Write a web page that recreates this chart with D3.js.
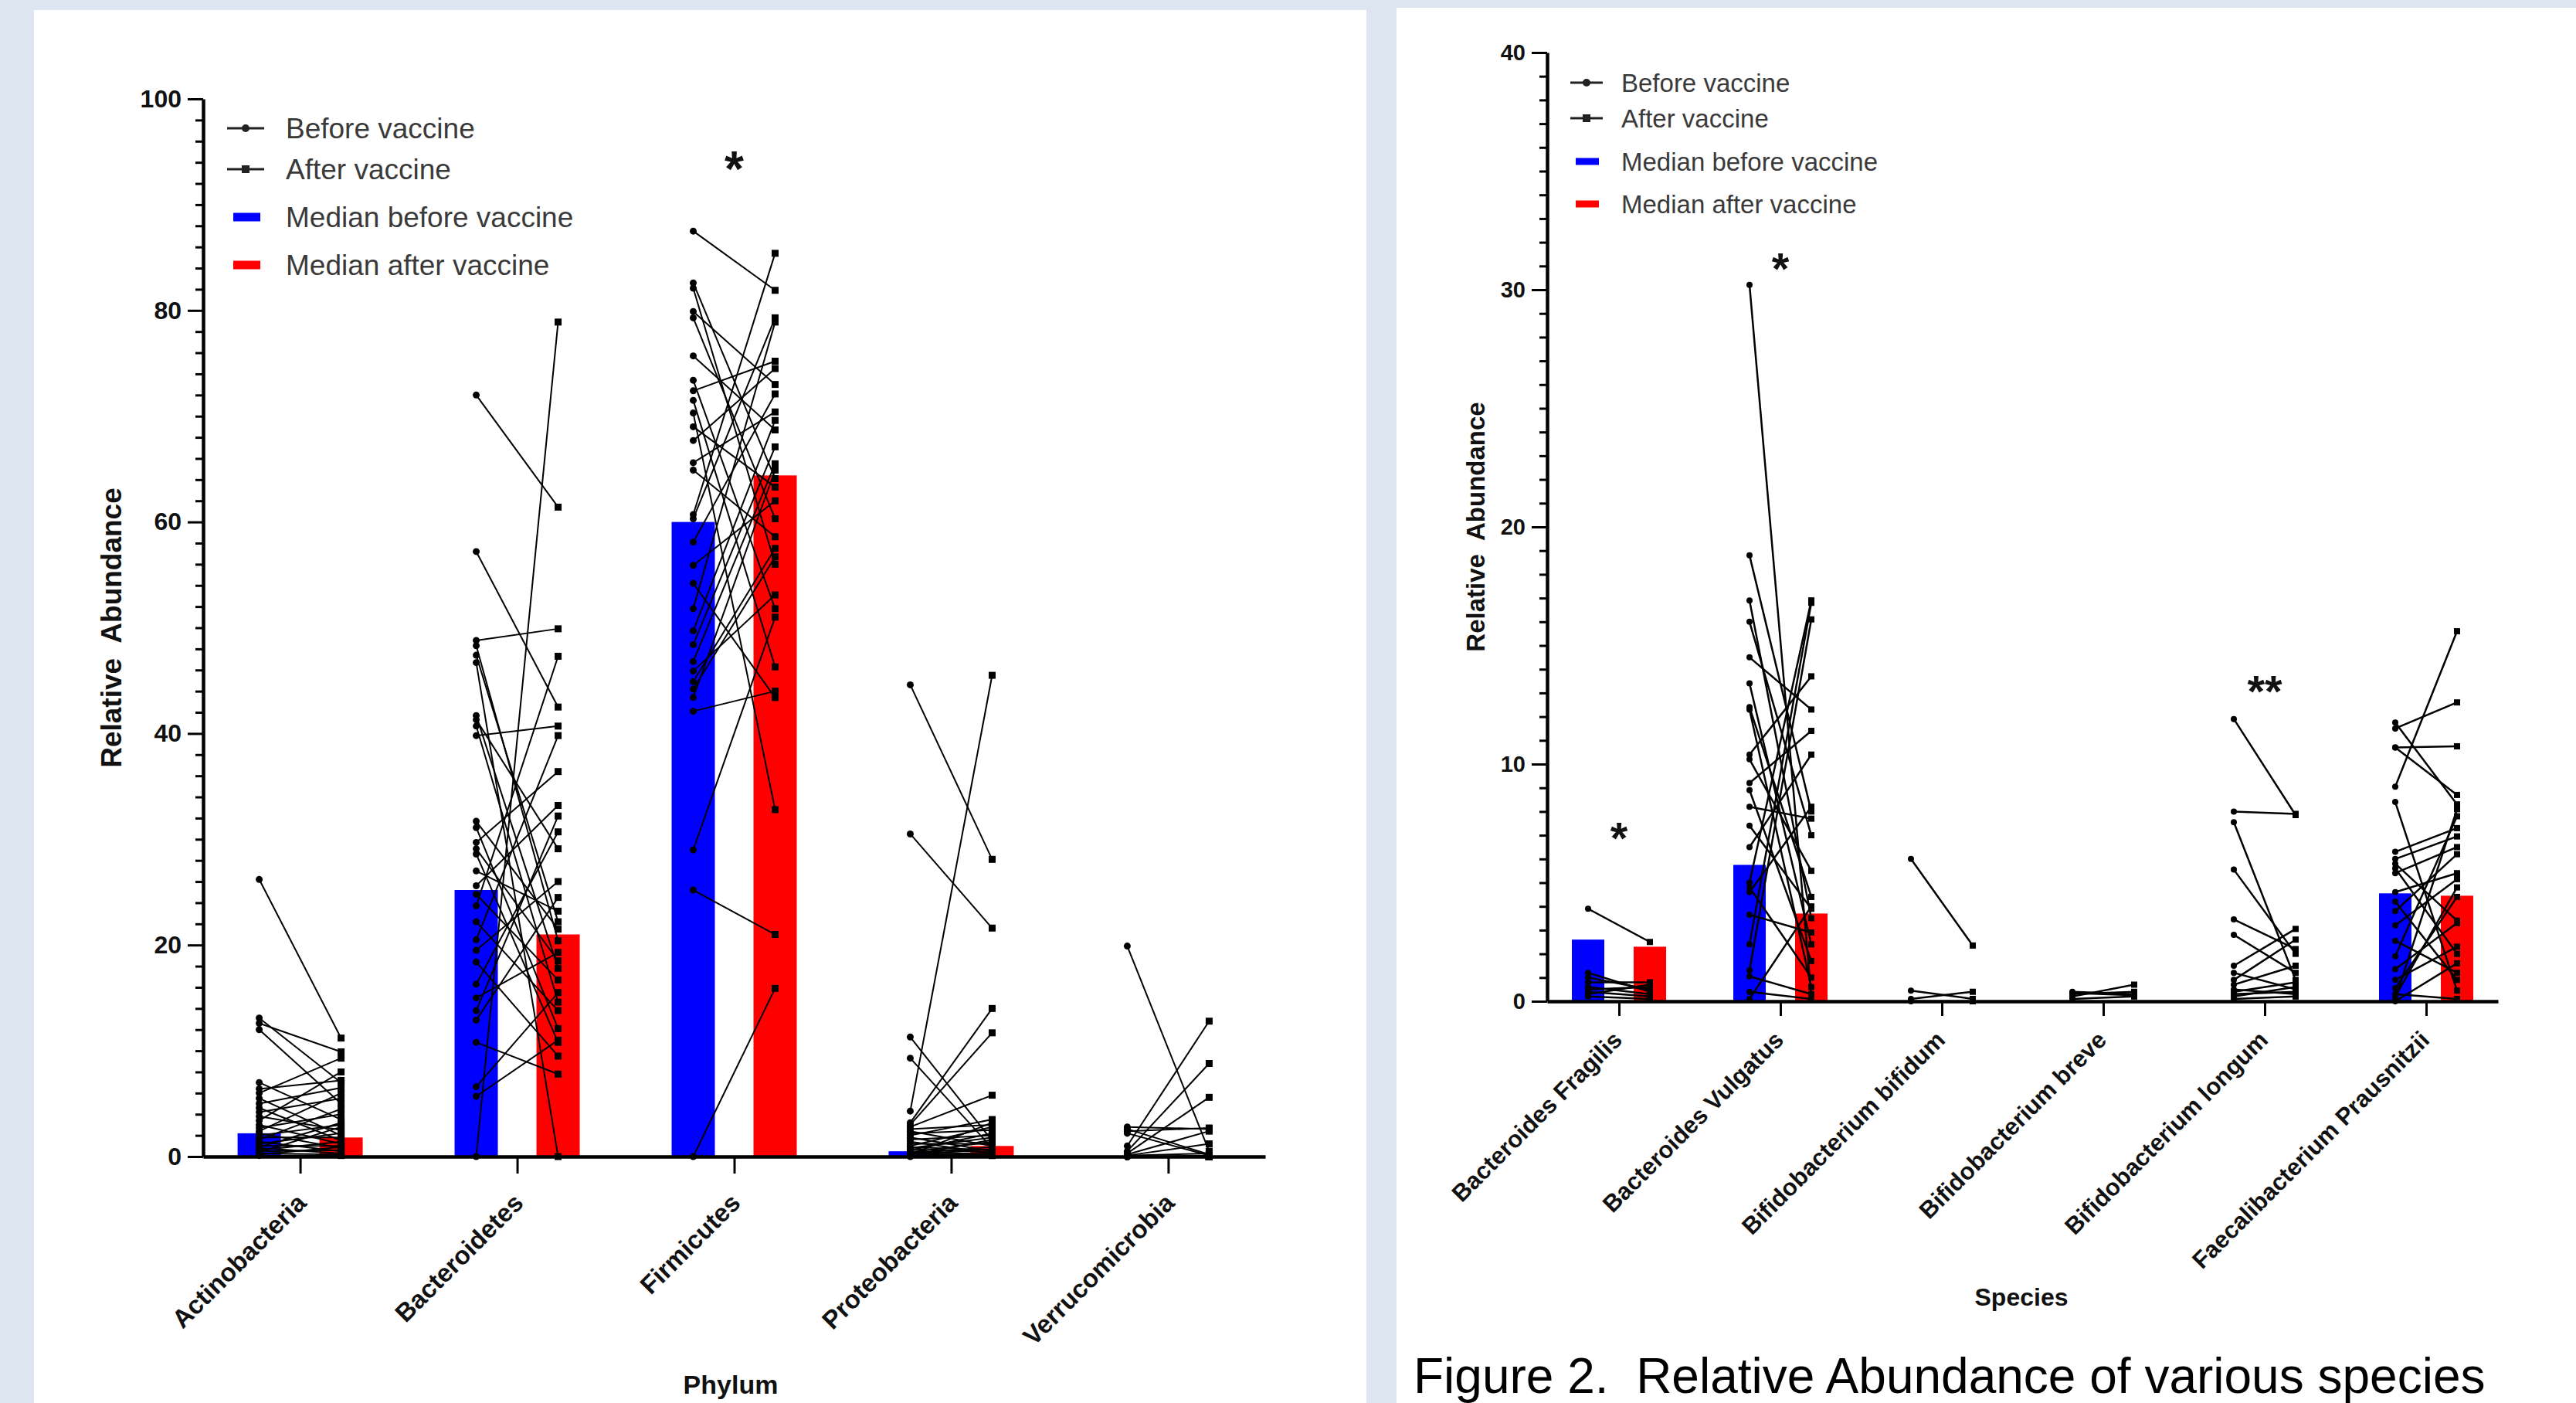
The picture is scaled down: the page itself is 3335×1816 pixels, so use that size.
<!DOCTYPE html>
<html><head><meta charset="utf-8">
<script src="https://cdn.jsdelivr.net/npm/d3@7"></script>
<style>
body{margin:0;background:#dce5f0;}
svg{display:block;}
text{font-family:"Liberation Sans",Arial,sans-serif;}
</style>
</head><body>
<svg id="c" width="3335" height="1816"></svg>
<script>
// ---------------- DATA: Phylum chart ----------------
const phyla = ["Actinobacteria","Bacteroidetes","Firmicutes","Proteobacteria","Verrucomicrobia"];
const phylumMedianBefore = [2.2, 25.2, 60.0, 0.5, 0];
const phylumMedianAfter  = [1.8, 21.0, 64.4, 1.0, 0];
const phylumStars = ["", "", "*", "", ""];
const phylumStarAt = [0, 0, 94.4, 0, 0];
const phylumTicks = [0, 20, 40, 60, 80, 100];

const actinoBefore = [26.2,13.1,12.6,12.0,7.0,6.4,6.0,5.5,5.0,4.6,4.2,3.8,3.4,3.0,2.7,2.4,2.2,2.0,1.8,1.6,1.4,1.2,1.0,0.9,0.8,0.6,0.5,0.4,0.3,0.2,0.1];
const actinoAfter  = [11.2,7.0,9.9,5.0,3.5,7.2,9.3,2.0,6.5,1.5,5.5,2.5,8.0,1.2,4.0,6.0,0.8,3.0,1.8,4.5,0.5,2.2,1.0,3.2,0.3,1.4,0.6,2.8,0.2,0.9,0.1];
const bacterBefore = [72,57.2,48.8,48.3,47.4,46.7,41.7,41.3,40.7,39.8,31.7,31.1,29.7,29.1,28.6,27.0,25.6,24.8,23.7,22.2,20.5,19.5,18.4,16.3,15.0,13.8,12.9,10.8,6.6,5.7,0];
const bacterAfter  = [61.4,42.5,49.9,20.4,22.2,0,17.8,29.1,14.6,40.7,21.5,12.1,36.4,18.5,10.8,23.2,33.2,16.7,47.3,13.8,39.8,26.0,9.5,30.7,19.3,32.2,24.5,7.8,15.5,11.0,78.9];
const firmiBefore  = [87.5,82.6,82.1,79.9,79.3,75.7,73.4,72.4,71.5,70.3,69.0,67.7,65.6,64.9,60.7,60.3,58.1,55.9,54.2,51.8,49.7,48.4,46.8,45.9,44.9,44.2,43.4,42.1,29.0,25.2,0];
const firmiAfter   = [81.9,64.1,56.0,73.0,60.3,68.7,51.8,75.2,46.3,32.8,63.3,74.5,70.4,58.6,85.4,79.3,72.1,62.0,43.4,78.9,69.6,67.1,65.5,53.1,57.5,56.7,64.9,44.0,51.0,21.0,15.9];
const proteoBefore = [44.6,30.5,11.3,9.3,4.3,3.2,3.0,2.8,2.6,2.4,2.2,2.0,1.8,1.6,1.4,1.2,1.0,0.9,0.8,0.7,0.6,0.5,0.4,0.3,0.3,0.2,0.2,0.1,0.1,0.05,0];
const proteoAfter  = [28.1,21.6,1.5,0.8,45.5,14.0,11.7,5.8,3.0,1.0,2.5,3.5,0.5,2.0,0.3,1.2,2.8,0.6,1.8,0.4,2.2,0.2,1.4,0.9,0.1,3.2,0.7,0.3,1.6,0.2,0.1];
const verruBefore  = [19.9,2.8,2.6,2.4,2.2,1.0,0.5,0.3,0.2,0.1,0.1,0,0,0,0,0,0,0,0,0,0,0,0,0,0,0,0,0,0,0,0];
const verruAfter   = [0.5,2.6,0.2,2.7,0.1,12.8,8.8,5.6,2.4,1.2,0.3,0,0.1,0,0,0,0,0,0,0,0,0,0,0,0,0,0,0,0,0,0];

// ---------------- DATA: Species chart ----------------
const species = ["Bacteroides Fragilis","Bacteroides Vulgatus","Bifidobacterium bifidum","Bifidobacterium breve","Bifidobacterium longum","Faecalibacterium Prausnitzii"];
const speciesMedianBefore = [2.6, 5.75, 0, 0, 0, 4.55];
const speciesMedianAfter  = [2.3, 3.7, 0, 0, 0, 4.45];
const speciesStars = ["*", "*", "", "", "**", ""];
const speciesStarAt = [7.3, 31.3, 0, 0, 13.5, 0];
const speciesTicks = [0, 10, 20, 30, 40];

const fragBefore = [3.9,1.2,1.0,0.8,0.6,0.5,0.4,0.3,0.2];
const fragAfter  = [2.5,0.4,0.5,0.8,0.3,0.6,0.2,0.7,0.1];
const vulgBefore = [30.2,18.8,16.9,16.0,14.5,13.4,12.4,12.3,10.4,10.2,9.2,8.9,8.2,7.4,6.5,5.0,4.8,4.6,3.65,2.4,1.3,1.05,0.4,0.1];
const vulgAfter  = [0.2,8.0,3.5,7.0,12.3,2.4,4.4,0.6,13.7,5.5,11.4,1.7,7.7,3.9,10.4,16.9,1.0,8.2,2.9,16.8,16.1,0.3,0.1,4.0];
const bifidBefore = [6.0,0.45,0.1,0];
const bifidAfter  = [2.35,0.1,0.4,0];
const breveBefore = [0.4,0.35,0.3,0.2,0.1];
const breveAfter  = [0.3,0.25,0.4,0.7,0.2];
const longBefore = [11.9,8.0,7.55,5.55,3.45,2.8,1.5,1.2,0.9,0.7,0.5,0.4,0.3,0.2,0.1];
const longAfter  = [7.85,7.9,0.9,2.0,2.2,1.2,3.05,0.5,2.6,1.5,0.3,0.8,0.4,0.6,0.2];
const faecBefore = [11.75,11.5,10.7,10.7,9.05,8.4,6.3,6.0,5.8,5.6,5.4,4.6,4.2,3.8,3.2,2.55,1.9,1.35,0.9,0.55,0.3,0.1,0.0,0.2];
const faecAfter  = [8.3,12.6,10.75,8.7,15.6,0.45,7.3,6.95,3.4,2.0,6.5,5.4,0.9,6.2,5.15,1.2,7.8,3.3,2.3,4.4,0.1,8.1,1.6,4.8];

const legendLabels = ["Before vaccine","After vaccine","Median before vaccine","Median after vaccine"];
const caption = "Figure 2.  Relative Abundance of various species";

// ---------------- DRAWING ----------------
const svg = d3.select("#c");
svg.append("rect").attr("width",3335).attr("height",1816).attr("fill","#dce5f0");
svg.append("rect").attr("x",44).attr("y",13).attr("width",1725).attr("height",1803).attr("fill","#fff");
svg.append("rect").attr("x",1808).attr("y",10).attr("width",1527).attr("height",1806).attr("fill","#fff");

function drawChart(o){
  const g = svg.append("g");
  const y = d3.scaleLinear().domain([0,o.yMax]).range([o.yBottom,o.yTop]);
  const x = d3.scalePoint().domain(o.cats).range([o.x0,o.x1]).padding(o.pad);
  const sub = d3.scalePoint().domain(["before","after"]).range([-o.off,o.off]);

  // bars
  o.cats.forEach((c,i)=>{
    [["before",o.medB[i],"#0000ff"],["after",o.medA[i],"#ff0000"]].forEach(([k,v,col])=>{
      if(v<=0) return;
      g.append("rect").attr("x",x(c)+sub(k)-o.barW/2).attr("width",o.barW)
        .attr("y",y(v)).attr("height",y(0)-y(v)).attr("fill",col);
    });
  });
  // lines + points
  o.cats.forEach((c,i)=>{
    const b=o.before[i], a=o.after[i];
    const xb=x(c)+sub("before"), xa=x(c)+sub("after");
    g.append("g").selectAll("line").data(d3.range(b.length)).join("line")
      .attr("x1",xb).attr("x2",xa).attr("y1",j=>y(b[j])).attr("y2",j=>y(a[j]))
      .attr("stroke","#000").attr("stroke-width",o.lw);
    g.append("g").selectAll("circle").data(b).join("circle")
      .attr("cx",xb).attr("cy",d=>y(d)).attr("r",o.pr).attr("fill","#000");
    g.append("g").selectAll("rect").data(a).join("rect")
      .attr("x",xa-o.pr).attr("y",d=>y(d)-o.pr).attr("width",o.pr*2).attr("height",o.pr*2).attr("fill","#000");
  });
  // y axis
  const minor = d3.range(0,o.yMax+0.001,o.minorStep).filter(v=>!o.ticks.includes(v));
  const ya = g.append("g").attr("transform",`translate(${o.x0},0)`)
    .call(d3.axisLeft(y).tickValues(o.ticks).tickSize(20).tickSizeOuter(0).tickPadding(8));
  ya.select(".domain").attr("stroke-width",o.axW).attr("stroke","#000");
  ya.selectAll(".tick line").attr("stroke-width",3);
  ya.selectAll("text").attr("font-size",o.tickFs).attr("font-weight","bold").attr("fill","#111")
    .attr("font-family","Liberation Sans, Arial, sans-serif");
  const ym = g.append("g").attr("transform",`translate(${o.x0},0)`)
    .call(d3.axisLeft(y).tickValues(minor).tickSize(10).tickSizeOuter(0).tickFormat(""));
  ym.select(".domain").remove();
  ym.selectAll(".tick line").attr("stroke-width",3);
  // x axis
  const xa = g.append("g").attr("transform",`translate(0,${o.yBottom})`)
    .call(d3.axisBottom(x).tickSize(o.xTick).tickSizeOuter(0).tickFormat(""));
  xa.select(".domain").attr("stroke-width",o.axW).attr("stroke","#000");
  xa.selectAll(".tick line").attr("stroke-width",3);
  g.append("g").selectAll("text").data(o.cats).join("text")
    .attr("transform",c=>`translate(${x(c)+o.lblDx},${o.yBottom+o.lblDy}) rotate(-45)`)
    .attr("text-anchor","end").attr("font-size",o.catFs).attr("font-weight","bold").attr("fill","#111")
    .text(c=>c);
  // stars
  o.cats.forEach((c,i)=>{
    if(!o.stars[i]) return;
    g.append("text").attr("x",x(c)).attr("y",y(o.starAt[i])+o.starFs*0.57)
      .attr("text-anchor","middle").attr("font-size",o.starFs).attr("font-weight","bold")
      .attr("fill","#111").text(o.stars[i]);
  });
  // axis titles
  g.append("text").attr("transform",`translate(${o.ytX},${(o.yTop+o.yBottom)/2+o.ytDy}) rotate(-90)`)
    .attr("text-anchor","middle").attr("font-size",o.ytFs).attr("font-weight","bold").attr("fill","#111")
    .attr("xml:space","preserve").style("white-space","pre").text("Relative  Abundance");
  g.append("text").attr("x",o.xtX).attr("y",o.xtY).attr("text-anchor","middle")
    .attr("font-size",o.xtFs).attr("font-weight","bold").attr("fill","#111").text(o.xTitle);
  // legend
  const L = o.leg;
  legendLabels.forEach((t,i)=>{
    const ly = L.ys[i];
    if(i<2){
      g.append("line").attr("x1",L.lx0).attr("x2",L.lx1).attr("y1",ly).attr("y2",ly)
        .attr("stroke","#222").attr("stroke-width",3);
      if(i===0) g.append("circle").attr("cx",(L.lx0+L.lx1)/2).attr("cy",ly).attr("r",5).attr("fill","#222");
      else g.append("rect").attr("x",(L.lx0+L.lx1)/2-5).attr("y",ly-5).attr("width",10).attr("height",10).attr("fill","#222");
    } else {
      g.append("rect").attr("x",L.sx).attr("y",ly-L.sh/2).attr("width",L.sw).attr("height",L.sh)
        .attr("fill",i===2?"#0000ff":"#ff0000");
    }
    g.append("text").attr("x",L.tx).attr("y",ly).attr("dy","0.35em").attr("font-size",L.fs)
      .attr("fill","#3a3a3a").text(t);
  });
}

drawChart({
  cats:phyla, before:[actinoBefore,bacterBefore,firmiBefore,proteoBefore,verruBefore],
  after:[actinoAfter,bacterAfter,firmiAfter,proteoAfter,verruAfter],
  medB:phylumMedianBefore, medA:phylumMedianAfter, stars:phylumStars, starAt:phylumStarAt,
  ticks:phylumTicks, yMax:100, minorStep:2,
  x0:263, x1:1638, yTop:128, yBottom:1497, pad:0.447, off:53, barW:56,
  lw:2, pr:4.5, axW:4.5, xTick:22, tickFs:32, catFs:33, lblDx:10, lblDy:62,
  starFs:64, ytX:157, ytDy:0, ytFs:37, xTitle:"Phylum", xtX:946, xtY:1804, xtFs:34,
  leg:{ys:[166,219,281,343], lx0:294, lx1:342, sx:302, sw:35, sh:11, tx:370, fs:37}
});
drawChart({
  cats:species, before:[fragBefore,vulgBefore,bifidBefore,breveBefore,longBefore,faecBefore],
  after:[fragAfter,vulgAfter,bifidAfter,breveAfter,longAfter,faecAfter],
  medB:speciesMedianBefore, medA:speciesMedianAfter, stars:speciesStars, starAt:speciesStarAt,
  ticks:speciesTicks, yMax:40, minorStep:1,
  x0:2003, x1:3234, yTop:68, yBottom:1296, pad:0.445, off:40, barW:42,
  lw:2.5, pr:4, axW:4.5, xTick:19, tickFs:29, catFs:31, lblDx:6, lblDy:52,
  starFs:58, ytX:1922, ytDy:0, ytFs:33, xTitle:"Species", xtX:2617, xtY:1690, xtFs:32,
  leg:{ys:[107,153,209,264], lx0:2033, lx1:2075, sx:2040, sw:30, sh:9, tx:2099, fs:33}
});
svg.append("text").attr("x",1830).attr("y",1803).attr("font-size",64).attr("fill","#000")
  .attr("xml:space","preserve").style("white-space","pre").text(caption);
</script>
</body></html>
